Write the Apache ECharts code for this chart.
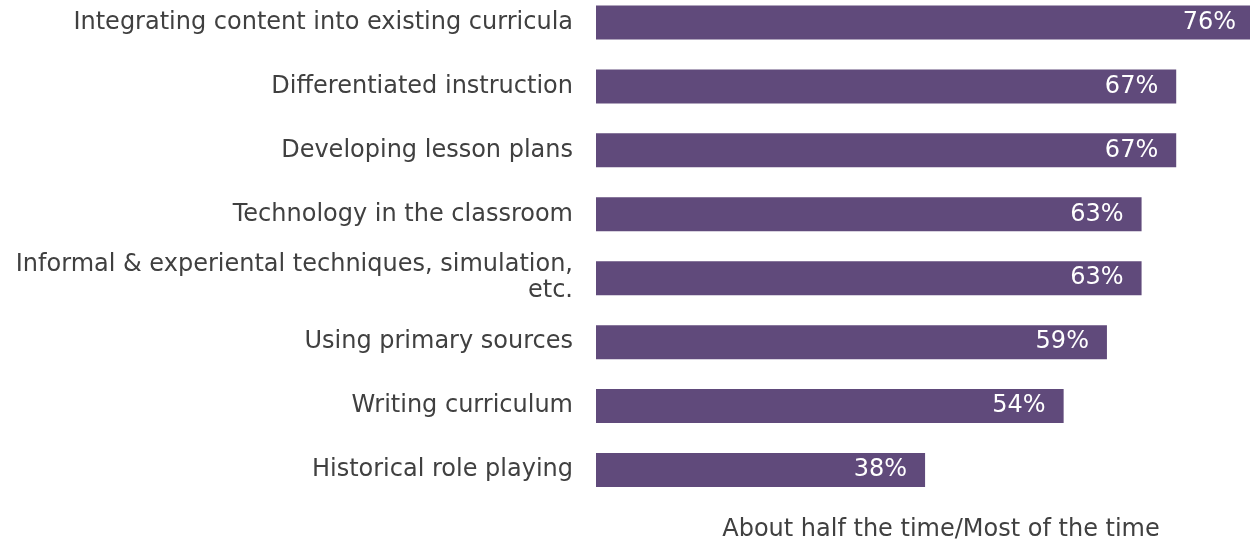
<!DOCTYPE html>
<html><head><meta charset="utf-8">
<script src="https://cdn.jsdelivr.net/npm/echarts@6/dist/echarts.min.js"></script>
<style>html,body{margin:0;padding:0;background:#fff}#c{width:1250px;height:542px}</style>
</head><body><div id="c"></div>
<script>
var categories = [
  "Integrating content into existing curricula",
  "Differentiated instruction",
  "Developing lesson plans",
  "Technology in the classroom",
  "Informal & experiental techniques, simulation,\netc.",
  "Using primary sources",
  "Writing curriculum",
  "Historical role playing"
];
var values = [76, 67, 67, 63, 63, 59, 54, 38];
var axisTitle = "About half the time/Most of the time";

var chart = echarts.init(document.getElementById('c'));
chart.setOption({
  animation: false,
  grid: { left: 596, top: 22.5, width: 654, height: 447.5, containLabel: false },
  xAxis: { type: 'value', min: 0, max: 75.52, show: false },
  yAxis: {
    type: 'category', data: categories, inverse: true, boundaryGap: false,
    axisLine: { show: false }, axisTick: { show: false }, splitLine: { show: false },
    axisLabel: { margin: 23, fontFamily: 'DejaVu Sans', fontSize: 24, color: '#404040', align: 'right', lineHeight: 26 }
  },
  series: [{
    type: 'bar', data: values, barWidth: 34, clip: false,
    itemStyle: { color: '#604A7B' },
    label: { show: true, position: 'insideRight', distance: 18, formatter: '{c}%', color: '#ffffff', fontFamily: 'DejaVu Sans', fontSize: 24 }
  }],
  graphic: [{
    type: 'text',
    style: { text: axisTitle, x: 941, y: 529.5, textAlign: 'center', textVerticalAlign: 'middle', fontFamily: 'DejaVu Sans', fontSize: 24, fill: '#404040' }
  }]
});
</script></body></html>
